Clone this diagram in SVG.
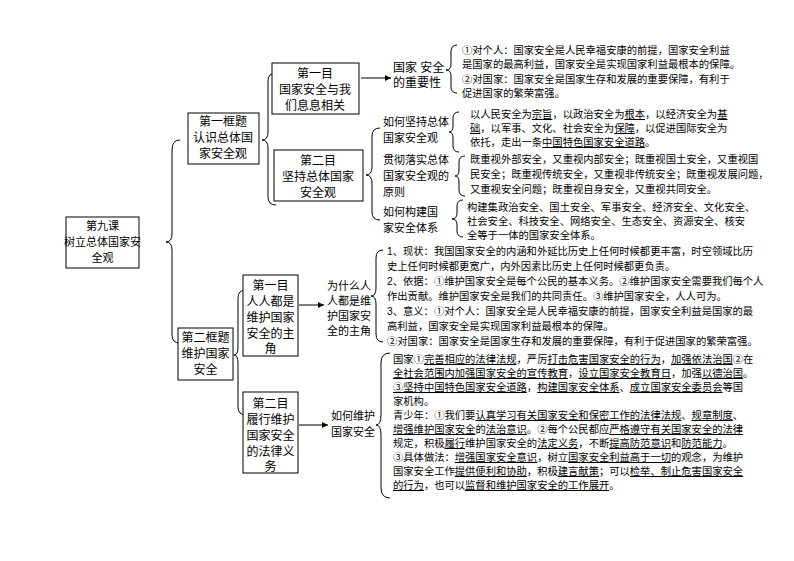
<svg xmlns="http://www.w3.org/2000/svg" width="794" height="561" viewBox="0 0 794 561">
<defs>
<style>
.b{fill:#fff;stroke:#000;stroke-width:1}
.t{font-family:"Liberation Sans","Noto Sans CJK SC",sans-serif;font-size:12px;fill:#000}
.m{font-family:"Liberation Sans","Noto Sans CJK SC",sans-serif;font-size:11px;fill:#000}
.s{font-family:"Liberation Sans","Noto Sans CJK SC",sans-serif;font-size:10.3px;fill:#000}
.u{text-decoration:underline}
.c{fill:none;stroke:#000;stroke-width:1}
</style>
<marker id="a" markerWidth="6" markerHeight="6" refX="6" refY="3" orient="auto"><path d="M0,0 L6,3 L0,6 z" fill="#000"/></marker>
</defs>
<rect width="794" height="561" fill="#fff"/>
<g id="connectors">
<path class="c" d="M180,140 Q172,140 172,150 L172,234 Q172,242 166,242 Q172,242 172,250 L172,335 Q172,343 180,343"/>
<path class="c" d="M276,73 Q268,73 268,81 L268,132 Q268,140 262,140 Q268,140 268,148 L268,197 Q268,205 276,205"/>
<path class="c" d="M246,290 Q238,290 238,298 L238,347 Q238,355 234,355 Q238,355 238,363 L238,407 Q238,415 246,415"/>
<path class="c" d="M380,128 Q372,128 372,136 L372,167 Q372,175 366,175 Q372,175 372,183 L372,212 Q372,220 380,220"/>
<path class="c" d="M457,45 Q451,45 451,52 L451,64 Q451,70 446,70 Q451,70 451,76 L451,87 Q451,93 457,93"/>
<path class="c" d="M459,112 Q453,112 453,118 L453,126 Q453,132 449,132 Q453,132 453,138 L453,146 Q453,152 459,152"/>
<path class="c" d="M465,156 Q459,156 459,162 L459,170 Q459,176 455,176 Q459,176 459,182 L459,190 Q459,196 465,196"/>
<path class="c" d="M463,200 Q457,200 457,206 L457,213 Q457,219 452,219 Q457,219 457,225 L457,231 Q457,237 463,237"/>
<path class="c" d="M383,250 Q376,250 376,258 L376,288 Q376,296 371,296 Q376,296 376,304 L376,334 Q376,342 383,342"/>
<path class="c" d="M390,353 Q381,353 381,363 L381,415 Q381,425 376,425 Q381,425 381,435 L381,488 Q381,498 390,498"/>
<line class="c" x1="361" y1="78" x2="391" y2="78" marker-end="url(#a)"/>
<line class="c" x1="299" y1="305" x2="324" y2="305" marker-end="url(#a)"/>
<line class="c" x1="299" y1="425" x2="328" y2="425" marker-end="url(#a)"/>
</g>
<g id="lesson"><rect class="b" x="66" y="217" width="73" height="51"/>
<text class="m" text-anchor="middle" font-size="10.5"><tspan x="102.5" y="230">第九课</tspan><tspan x="102.5" y="246">树立总体国家安</tspan><tspan x="102.5" y="262">全观</tspan></text></g>
<g id="kuang1"><rect class="b" x="188" y="113" width="71" height="51"/>
<text class="t" text-anchor="middle"><tspan x="223" y="126">第一框题</tspan><tspan x="223" y="142">认识总体国</tspan><tspan x="223" y="158">家安全观</tspan></text></g>
<g id="mu1"><rect class="b" x="272" y="63" width="87" height="51"/>
<text class="t" text-anchor="middle"><tspan x="315" y="78">第一目</tspan><tspan x="315" y="94">国家安全与我</tspan><tspan x="315" y="110">们息息相关</tspan></text></g>
<g id="mu2"><rect class="b" x="274" y="150" width="89" height="51"/>
<text class="t" text-anchor="middle"><tspan x="318" y="165">第二目</tspan><tspan x="318" y="181">坚持总体国家</tspan><tspan x="318" y="197">安全观</tspan></text></g>
<g id="importance"><text class="t"><tspan x="393" y="72">国家 安全</tspan><tspan x="393" y="87">的重要性</tspan></text>
<text class="s"><tspan x="462" y="54">①对个人：国家安全是人民幸福安康的前提，国家安全利益</tspan><tspan x="462" y="68">是国家的最高利益，国家安全是实现国家利益最根本的保障。</tspan><tspan x="462" y="83">②对国家：国家安全是国家生存和发展的重要保障，有利于</tspan><tspan x="462" y="97">促进国家的繁荣富强。</tspan></text></g>
<g id="jianchi"><text class="m"><tspan x="383" y="126">如何坚持总体</tspan><tspan x="383" y="142">国家安全观</tspan></text>
<text class="s"><tspan x="470" y="118">以人民安全为<tspan class="u">宗旨</tspan>，以政治安全为<tspan class="u">根本</tspan>，以经济安全为<tspan class="u">基</tspan></tspan><tspan x="470" y="132"><tspan class="u">础</tspan>，以军事、文化、社会安全为<tspan class="u">保障</tspan>，以促进国际安全为</tspan><tspan x="470" y="146">依托，走出一条<tspan class="u">中国特色国家安全道路</tspan>。</tspan></text></g>
<g id="yuanze"><text class="m"><tspan x="383" y="164">贯彻落实总体</tspan><tspan x="383" y="180">国家安全观的</tspan><tspan x="383" y="196">原则</tspan></text>
<text class="s"><tspan x="470" y="163">既重视外部安全，又重视内部安全；既重视国土安全，又重视国</tspan><tspan x="470" y="178">民安全；既重视传统安全，又重视非传统安全；既重视发展问题，</tspan><tspan x="470" y="193">又重视安全问题；既重视自身安全，又重视共同安全。</tspan></text></g>
<g id="goujian"><text class="m"><tspan x="383" y="216">如何构建国</tspan><tspan x="383" y="232">家安全体系</tspan></text>
<text class="s"><tspan x="467" y="211">构建集政治安全、国土安全、军事安全、经济安全、文化安全、</tspan><tspan x="467" y="225">社会安全、科技安全、网络安全、生态安全、资源安全、核安</tspan><tspan x="467" y="239">全等于一体的国家安全体系。</tspan></text></g>
<g id="kuang2"><rect class="b" x="178" y="328" width="55" height="52"/>
<text class="t" text-anchor="middle"><tspan x="205.5" y="342">第二框题</tspan><tspan x="205.5" y="358">维护国家</tspan><tspan x="205.5" y="374">安全</tspan></text></g>
<g id="mu3"><rect class="b" x="243" y="275" width="55" height="81"/>
<text class="t" text-anchor="middle"><tspan x="270.5" y="290">第一目</tspan><tspan x="270.5" y="306">人人都是</tspan><tspan x="270.5" y="322">维护国家</tspan><tspan x="270.5" y="338">安全的主</tspan><tspan x="270.5" y="353">角</tspan></text></g>
<g id="mu4"><rect class="b" x="243" y="392" width="55" height="81"/>
<text class="t" text-anchor="middle"><tspan x="270.5" y="408">第二目</tspan><tspan x="270.5" y="424">履行维护</tspan><tspan x="270.5" y="440">国家安全</tspan><tspan x="270.5" y="456">的法律义</tspan><tspan x="270.5" y="471">务</tspan></text></g>
<g id="why"><text class="m"><tspan x="327" y="290">为什么人</tspan><tspan x="327" y="305">人都是维</tspan><tspan x="327" y="320">护国家安</tspan><tspan x="327" y="335">全的主角</tspan></text>
<text class="s"><tspan x="387" y="255">1、现状：我国国家安全的内涵和外延比历史上任何时候都更丰富，时空领域比历</tspan><tspan x="387" y="270">史上任何时候都更宽广，内外因素比历史上任何时候都更负责。</tspan><tspan x="387" y="285">2、依据：①维护国家安全是每个公民的基本义务。②维护国家安全需要我们每个人</tspan><tspan x="387" y="300">作出贡献。维护国家安全是我们的共同责任。③维护国家安全，人人可为。</tspan><tspan x="387" y="315">3、意义：①对个人：国家安全是人民幸福安康的前提，国家安全利益是国家的最</tspan><tspan x="387" y="330">高利益，国家安全是实现国家利益最根本的保障。</tspan><tspan x="387" y="345">②对国家：国家安全是国家生存和发展的重要保障，有利于促进国家的繁荣富强。</tspan></text></g>
<g id="how"><text class="m"><tspan x="331" y="420">如何维护</tspan><tspan x="331" y="436">国家安全</tspan></text>
<text class="s"><tspan x="393" y="363">国家①<tspan class="u">完善相应的法律法规</tspan>，严厉<tspan class="u">打击危害国家安全的行为</tspan>，<tspan class="u">加强依法治国</tspan>②在</tspan><tspan x="393" y="377"><tspan class="u">全社会范围内加强国家安全的宣传教育</tspan>，<tspan class="u">设立国家安全教育日</tspan>，加强<tspan class="u">以德治国</tspan>。</tspan><tspan x="393" y="391"><tspan class="u">③坚持中国特色国家安全道路</tspan>，<tspan class="u">构建国家安全体系</tspan>、<tspan class="u">成立国家安全委员会</tspan>等国</tspan><tspan x="393" y="405">家机构。</tspan><tspan x="393" y="419">青少年：①我们要<tspan class="u">认真学习有关国家安全和保密工作的法律法规</tspan>、<tspan class="u">规章制度</tspan>、</tspan><tspan x="393" y="433"><tspan class="u">增强维护国家安全</tspan>的<tspan class="u">法治意识</tspan>。②每个公民都应<tspan class="u">严格遵守有关国家安全的法律</tspan></tspan><tspan x="393" y="447">规定，积极<tspan class="u">履行</tspan>维护国家安全的<tspan class="u">法定义务</tspan>，不断<tspan class="u">提高防范意识</tspan>和<tspan class="u">防范能力</tspan>。</tspan><tspan x="393" y="461">③具体做法：<tspan class="u">增强国家安全意识</tspan>，树立<tspan class="u">国家安全利益高于一切</tspan>的观念，为维护</tspan><tspan x="393" y="475">国家安全工作<tspan class="u">提供便利和协助</tspan>，积极<tspan class="u">建言献策</tspan>；可以<tspan class="u">检举、制止危害国家安全</tspan></tspan><tspan x="393" y="489"><tspan class="u">的行为</tspan>，也可以<tspan class="u">监督和维护国家安全的工作展开</tspan>。</tspan></text></g>
</svg>
